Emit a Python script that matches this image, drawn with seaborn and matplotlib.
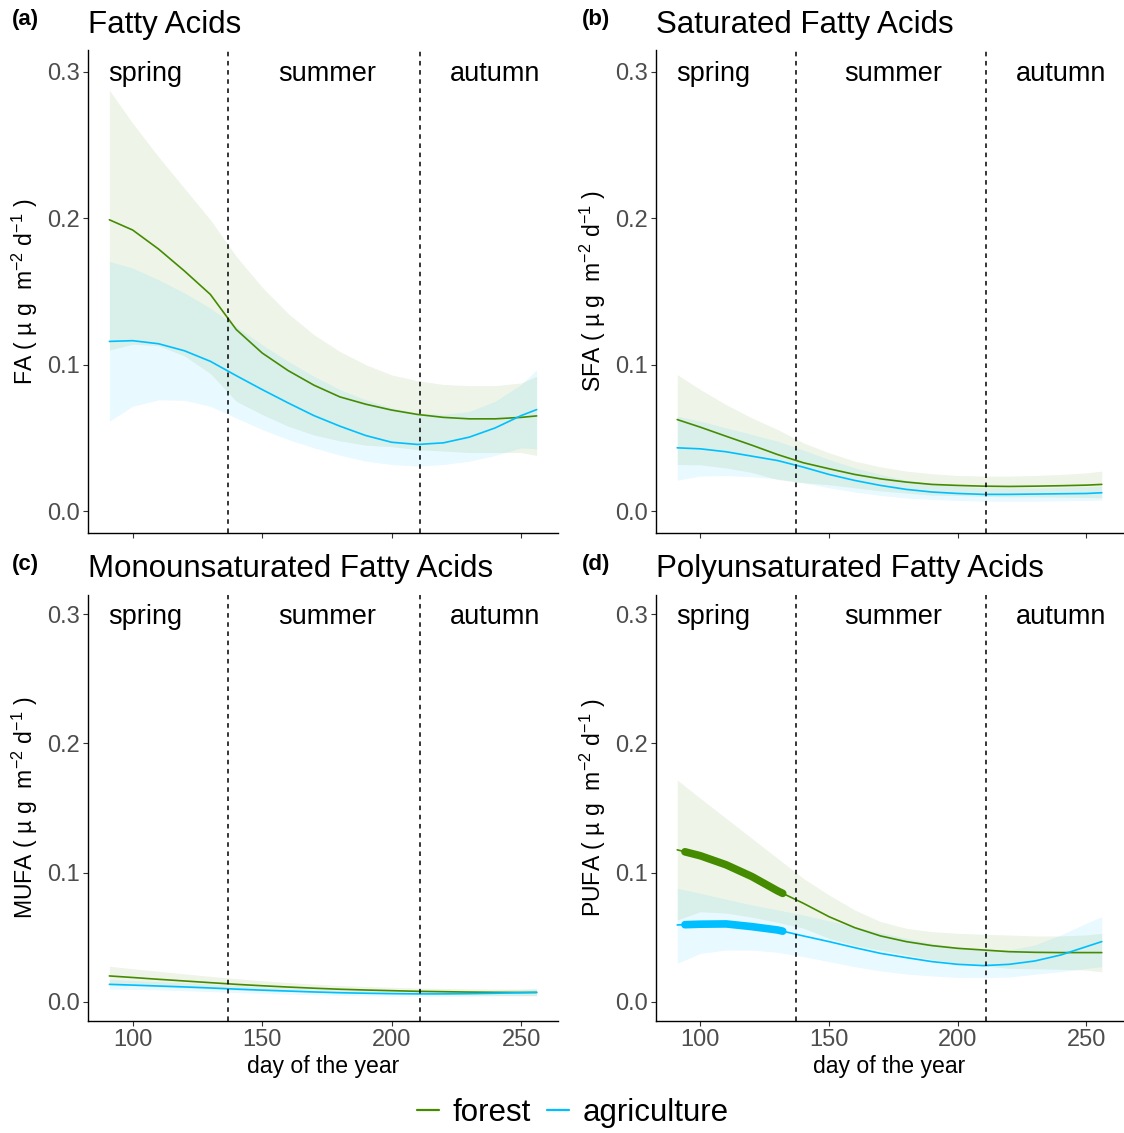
import numpy as np
import pandas as pd
import matplotlib
matplotlib.use("Agg")
import matplotlib.pyplot as plt
import seaborn as sns
from matplotlib.lines import Line2D

# ---- data: fitted seasonal trends with confidence bands ----
days = [91, 100, 110, 120, 130, 140, 150, 160, 170, 180, 190, 200, 210, 220, 230, 240, 250, 256]

fa_forest_fit = [0.199, 0.192, 0.179, 0.164, 0.148, 0.124, 0.108, 0.096, 0.086, 0.078, 0.073, 0.069, 0.066, 0.064, 0.063, 0.063, 0.064, 0.065]
fa_forest_lo = [0.110, 0.114, 0.113, 0.106, 0.094, 0.075, 0.066, 0.058, 0.052, 0.048, 0.045, 0.044, 0.042, 0.041, 0.040, 0.040, 0.040, 0.038]
fa_forest_hi = [0.2875, 0.265, 0.242, 0.2205, 0.199, 0.174, 0.153, 0.135, 0.1205, 0.109, 0.100, 0.093, 0.089, 0.0865, 0.0857, 0.0857, 0.0875, 0.092]
fa_agri_fit = [0.1159, 0.1164, 0.1143, 0.1095, 0.1023, 0.0925, 0.083, 0.0739, 0.0652, 0.058, 0.0516, 0.047, 0.0455, 0.0466, 0.0505, 0.0568, 0.0652, 0.0693]
fa_agri_lo = [0.0614, 0.0716, 0.076, 0.0757, 0.0716, 0.0636, 0.0557, 0.0489, 0.0432, 0.0382, 0.0341, 0.0318, 0.0307, 0.0318, 0.0341, 0.038, 0.0432, 0.0425]
fa_agri_hi = [0.1705, 0.166, 0.158, 0.149, 0.1386, 0.126, 0.1136, 0.1023, 0.092, 0.083, 0.076, 0.0705, 0.067, 0.066, 0.068, 0.075, 0.0864, 0.0966]

sfa_forest_fit = [0.0625, 0.0573, 0.0511, 0.045, 0.0386, 0.033, 0.0289, 0.025, 0.022, 0.0198, 0.0182, 0.0175, 0.017, 0.0168, 0.017, 0.0173, 0.0177, 0.0182]
sfa_forest_lo = [0.0318, 0.0316, 0.0295, 0.0264, 0.0215, 0.0194, 0.018, 0.0159, 0.0138, 0.0123, 0.0109, 0.0107, 0.0101, 0.0097, 0.0097, 0.0096, 0.0093, 0.0091]
sfa_forest_hi = [0.0932, 0.083, 0.0727, 0.0636, 0.0557, 0.0466, 0.0398, 0.0341, 0.0302, 0.0273, 0.0255, 0.0243, 0.0239, 0.0239, 0.0243, 0.025, 0.0261, 0.0273]
sfa_agri_fit = [0.0432, 0.0425, 0.0405, 0.0375, 0.0345, 0.030, 0.025, 0.0209, 0.0175, 0.0148, 0.013, 0.012, 0.0114, 0.0114, 0.0116, 0.0118, 0.012, 0.0125]
sfa_agri_lo = [0.0211, 0.0239, 0.0243, 0.0234, 0.022, 0.0193, 0.0159, 0.013, 0.0107, 0.0089, 0.008, 0.0073, 0.0068, 0.0068, 0.0068, 0.007, 0.0073, 0.0075]
sfa_agri_hi = [0.0648, 0.0614, 0.0568, 0.0523, 0.0477, 0.0416, 0.0352, 0.0295, 0.025, 0.0211, 0.0186, 0.017, 0.0159, 0.0157, 0.0157, 0.0161, 0.0166, 0.017]

mufa_forest_fit = [0.0199, 0.0187, 0.0173, 0.016, 0.0147, 0.0134, 0.0123, 0.0113, 0.0104, 0.0096, 0.009, 0.0085, 0.008, 0.0077, 0.0074, 0.0072, 0.0071, 0.0071]
mufa_forest_lo = [0.013, 0.0124, 0.0115, 0.0107, 0.0099, 0.009, 0.0084, 0.0078, 0.0072, 0.0067, 0.0063, 0.006, 0.0056, 0.0053, 0.005, 0.0048, 0.0046, 0.0045]
mufa_forest_hi = [0.0274, 0.0255, 0.0235, 0.0215, 0.0196, 0.0178, 0.0162, 0.0148, 0.0136, 0.0125, 0.0117, 0.0111, 0.0106, 0.0102, 0.0099, 0.0097, 0.0097, 0.0098]
mufa_agri_fit = [0.0134, 0.0128, 0.0121, 0.0114, 0.0106, 0.0097, 0.0089, 0.0082, 0.0075, 0.0069, 0.0065, 0.0062, 0.006, 0.006, 0.0062, 0.0065, 0.0069, 0.0072]
mufa_agri_lo = [0.0096, 0.0095, 0.0091, 0.0085, 0.0078, 0.0071, 0.0064, 0.0058, 0.0053, 0.0049, 0.0046, 0.0043, 0.0041, 0.0041, 0.0042, 0.0044, 0.0046, 0.0047]
mufa_agri_hi = [0.0172, 0.0163, 0.0154, 0.0145, 0.0135, 0.0124, 0.0114, 0.0105, 0.0097, 0.009, 0.0085, 0.0081, 0.0079, 0.0079, 0.0082, 0.0087, 0.0095, 0.0101]

pufa_forest_fit = [0.1176, 0.113, 0.106, 0.0969, 0.0858, 0.0762, 0.0658, 0.0573, 0.0509, 0.0465, 0.0434, 0.0413, 0.04, 0.0387, 0.0382, 0.038, 0.038, 0.038]
pufa_forest_lo = [0.0633, 0.0697, 0.0686, 0.0655, 0.0614, 0.057, 0.049, 0.0436, 0.0398, 0.0362, 0.0326, 0.0297, 0.0278, 0.0258, 0.0255, 0.0251, 0.0244, 0.0231]
pufa_forest_hi = [0.1717, 0.1575, 0.142, 0.1265, 0.111, 0.0955, 0.0826, 0.071, 0.062, 0.0568, 0.0542, 0.0529, 0.0522, 0.0516, 0.0509, 0.0509, 0.0516, 0.0529]
pufa_agri_fit = [0.0594, 0.060, 0.0602, 0.0581, 0.0555, 0.0509, 0.0465, 0.0418, 0.0374, 0.0341, 0.031, 0.0289, 0.0279, 0.0289, 0.0315, 0.0361, 0.0426, 0.0465]
pufa_agri_lo = [0.0297, 0.0374, 0.04, 0.04, 0.0382, 0.0349, 0.031, 0.0271, 0.0238, 0.0214, 0.0199, 0.0188, 0.0186, 0.0191, 0.0212, 0.0232, 0.0258, 0.0271]
pufa_agri_hi = [0.0878, 0.0839, 0.0793, 0.0749, 0.071, 0.0671, 0.0625, 0.0581, 0.0534, 0.0491, 0.0452, 0.0421, 0.04, 0.04, 0.0439, 0.0516, 0.0607, 0.0658]

land_uses = ["forest", "agriculture"]
panel_keys = ["fa", "sfa", "mufa", "pufa"]
panel_letters = ["(a)", "(b)", "(c)", "(d)"]
panel_titles = ["Fatty Acids", "Saturated Fatty Acids",
                "Monounsaturated Fatty Acids", "Polyunsaturated Fatty Acids"]
y_abbrev = ["FA", "SFA", "MUFA", "PUFA"]

season_bounds = [137, 211]
season_names = ["spring", "summer", "autumn"]
season_label_days = [105, 175, 240]
season_label_y = 0.3

# window of significant change in PUFA (highlighted on the fitted curves)
pufa_sig_window = (94, 132)

x_ticks = [100, 150, 200, 250]
y_ticks = [0.0, 0.1, 0.2, 0.3]

series = {
    "fa": {"forest": (fa_forest_fit, fa_forest_lo, fa_forest_hi),
           "agriculture": (fa_agri_fit, fa_agri_lo, fa_agri_hi)},
    "sfa": {"forest": (sfa_forest_fit, sfa_forest_lo, sfa_forest_hi),
            "agriculture": (sfa_agri_fit, sfa_agri_lo, sfa_agri_hi)},
    "mufa": {"forest": (mufa_forest_fit, mufa_forest_lo, mufa_forest_hi),
             "agriculture": (mufa_agri_fit, mufa_agri_lo, mufa_agri_hi)},
    "pufa": {"forest": (pufa_forest_fit, pufa_forest_lo, pufa_forest_hi),
             "agriculture": (pufa_agri_fit, pufa_agri_lo, pufa_agri_hi)},
}

rows = []
for key in panel_keys:
    for lu in land_uses:
        fit, lo, hi = series[key][lu]
        for d, f, l, h in zip(days, fit, lo, hi):
            rows.append({"panel": key, "land_use": lu, "day": d,
                         "fit": f, "lo": l, "hi": h})
df = pd.DataFrame(rows)

# ---- styling ----
sns.set_style("ticks")
plt.rcParams["font.family"] = ["Liberation Sans", "DejaVu Sans"]
plt.rcParams["mathtext.fontset"] = "custom"
plt.rcParams["mathtext.rm"] = "Liberation Sans"
plt.rcParams["mathtext.it"] = "Liberation Sans:italic"
plt.rcParams["mathtext.default"] = "regular"
plt.rcParams["text.color"] = "black"
plt.rcParams["axes.labelcolor"] = "black"
plt.rcParams["axes.titlecolor"] = "black"

palette = {"forest": "#458B00", "agriculture": "#00BFFF"}
tick_grey = "#4D4D4D"

fig = plt.figure(figsize=(11.24, 11.33), dpi=100)
W, H = 1124.0, 1133.0


def px_axes(left, top, right, bottom):
    return fig.add_axes([left / W, 1 - bottom / H, (right - left) / W, (bottom - top) / H])


axes = [
    px_axes(88, 50, 558, 533),
    px_axes(656, 50, 1123, 533),
    px_axes(88, 595, 558, 1021),
    px_axes(656, 595, 1123, 1021),
]

for i, (ax, key) in enumerate(zip(axes, panel_keys)):
    sub = df[df["panel"] == key]

    # confidence bands
    for lu in land_uses:
        s = sub[sub["land_use"] == lu]
        ax.fill_between(s["day"], s["lo"], s["hi"], color=palette[lu],
                        alpha=0.09, linewidth=0, zorder=1)

    # fitted curves
    sns.lineplot(data=sub, x="day", y="fit", hue="land_use", hue_order=land_uses,
                 palette=palette, estimator=None, sort=True, legend=False,
                 linewidth=1.2, ax=ax, zorder=3)

    # highlighted period of significant change
    if key == "pufa":
        for lu in land_uses:
            s = sub[sub["land_use"] == lu]
            d = np.linspace(pufa_sig_window[0], pufa_sig_window[1], 60)
            y = np.interp(d, s["day"], s["fit"])
            ax.plot(d, y, color=palette[lu], linewidth=5.5,
                    solid_capstyle="round", zorder=4)

    # season boundaries and names
    for b in season_bounds:
        ax.axvline(b, color="black", linestyle=(0, (3, 3)), linewidth=1.1, zorder=5)
    for name, d in zip(season_names, season_label_days):
        ax.annotate(name, xy=(d, season_label_y), xytext=(0, -6.8),
                    textcoords="offset points", ha="center", va="baseline",
                    fontsize=19.5, color="black")

    ax.set_xlim(82.75, 264.25)
    ax.set_ylim(-0.015, 0.315)
    ax.set_xticks(x_ticks)
    ax.set_yticks(y_ticks)
    ax.set_yticklabels([f"{v:.1f}" for v in y_ticks])
    ax.tick_params(axis="both", colors="#333333", labelcolor=tick_grey,
                   labelsize=17, length=3.5, width=0.8, pad=2.5)
    sns.despine(ax=ax)
    for sp in ("left", "bottom"):
        ax.spines[sp].set_color("black")
        ax.spines[sp].set_linewidth(1.0)

    ax.set_ylabel(f"{y_abbrev[i]} ( µ g  m$^{{-2}}$ d$^{{-1}}$ )", fontsize=16.6)
    ax.yaxis.set_label_coords(-0.103, 0.5)

    if i < 2:
        ax.tick_params(axis="x", labelbottom=False)
        ax.set_xlabel("")
    else:
        ax.set_xticklabels([str(t) for t in x_ticks])
        ax.set_xlabel("day of the year", fontsize=16.6, labelpad=2.5)

    ax.set_title(panel_titles[i], loc="left", fontsize=22.5, pad=12.5 if i < 2 else 13)

# panel letters
letter_pos = [(12, 25), (582, 25), (12, 570), (582, 570)]
for letter, (x, y) in zip(panel_letters, letter_pos):
    fig.text(x / W, 1 - y / H, letter, fontsize=16, fontweight="bold",
             ha="left", va="baseline")

handles = [Line2D([0], [0], color=palette[lu], linewidth=1.6) for lu in land_uses]
fig.legend(handles, land_uses, loc="center", bbox_to_anchor=(573 / W, 1 - 1113 / H),
           ncol=2, frameon=False, fontsize=22.5, handlelength=0.7,
           handletextpad=0.45, columnspacing=0.5)

fig.savefig("out.png", dpi=100)
